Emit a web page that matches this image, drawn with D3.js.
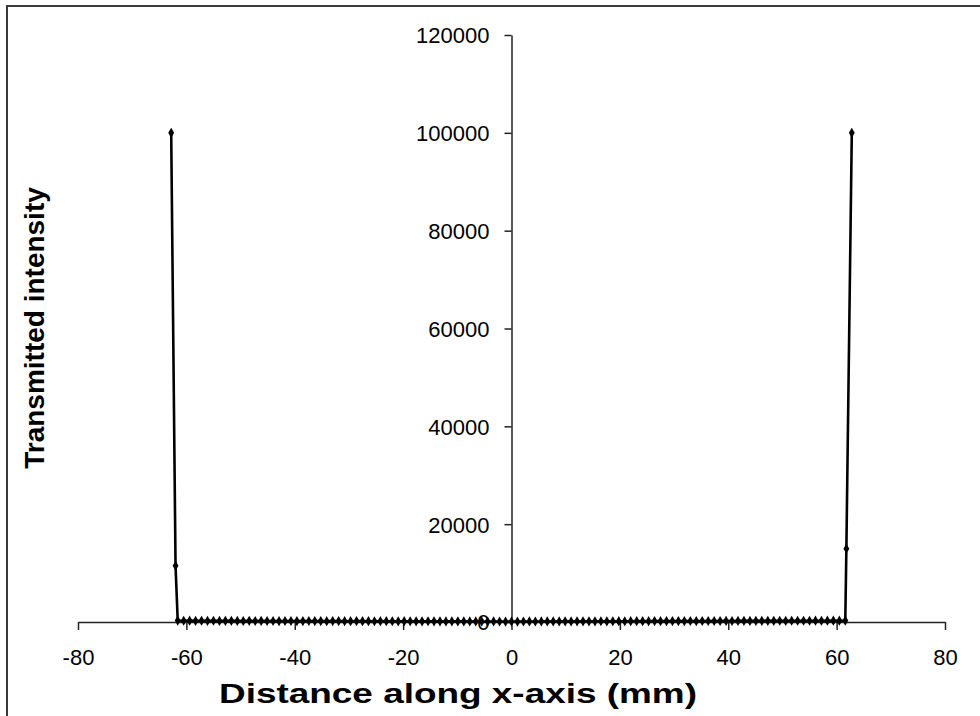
<!DOCTYPE html>
<html>
<head>
<meta charset="utf-8">
<script src="https://cdn.jsdelivr.net/npm/d3@7/dist/d3.min.js"></script>
<style>
  html, body { margin: 0; padding: 0; background: #fff; }
  svg { display: block; }
  text { font-family: "Liberation Sans", Arial, sans-serif; fill: #000; }
</style>
</head>
<body>
<svg id="chart" width="980" height="716"></svg>
<script>
// Distance along the x-axis (mm) for each sample
const distance = [
  -62.8, -62.0,
  -61.6, -60.5, -59.4, -58.3, -57.2, -56.1, -55.0, -53.9, -52.8, -51.7,
  -50.6, -49.5, -48.4, -47.3, -46.2, -45.1, -44.0, -42.9, -41.8, -40.7,
  -39.6, -38.5, -37.4, -36.3, -35.2, -34.1, -33.0, -31.9, -30.8, -29.7,
  -28.6, -27.5, -26.4, -25.3, -24.2, -23.1, -22.0, -20.9, -19.8, -18.7,
  -17.6, -16.5, -15.4, -14.3, -13.2, -12.1, -11.0, -9.9, -8.8, -7.7,
  -6.6, -5.5, -4.4, -3.3, -2.2, -1.1, 0.0, 1.1, 2.2, 3.3,
  4.4, 5.5, 6.6, 7.7, 8.8, 9.9, 11.0, 12.1, 13.2, 14.3,
  15.4, 16.5, 17.6, 18.7, 19.8, 20.9, 22.0, 23.1, 24.2, 25.3,
  26.4, 27.5, 28.6, 29.7, 30.8, 31.9, 33.0, 34.1, 35.2, 36.3,
  37.4, 38.5, 39.6, 40.7, 41.8, 42.9, 44.0, 45.1, 46.2, 47.3,
  48.4, 49.5, 50.6, 51.7, 52.8, 53.9, 55.0, 56.1, 57.2, 58.3,
  59.4, 60.5, 61.6,
  61.8, 62.8
];

// Transmitted intensity at each sample
const intensity = [
  100000, 11500,
  300, 250, 280, 240, 260, 230, 250, 220, 240, 230,
  220, 210, 230, 200, 220, 210, 200, 190, 210, 200,
  190, 180, 200, 190, 180, 170, 190, 180, 170, 160,
  180, 170, 160, 150, 170, 160, 150, 140, 160, 150,
  140, 130, 150, 140, 130, 120, 140, 130, 120, 110,
  120, 110, 100, 110, 100, 90, 100, 90, 100, 110,
  100, 110, 120, 110, 120, 130, 120, 130, 140, 130,
  140, 150, 140, 150, 160, 150, 160, 170, 160, 170,
  180, 170, 180, 190, 180, 190, 200, 190, 200, 210,
  200, 210, 220, 210, 220, 230, 220, 230, 240, 230,
  240, 250, 240, 250, 260, 250, 260, 270, 260, 270,
  280, 270, 300,
  15000, 100000
];

const xTicks = [-80, -60, -40, -20, 0, 20, 40, 60, 80];
const yTicks = [0, 20000, 40000, 60000, 80000, 100000, 120000];

const xTitle = "Distance along x-axis (mm)";
const yTitle = "Transmitted intensity";

const svg = d3.select("#chart");

const x = d3.scaleLinear().domain([-80, 80]).range([78, 945]);
const y = d3.scaleLinear().domain([0, 120000]).range([622, 35]);

// plain hyphen for negatives
const plain = d => String(d);

// page frame (left and top edges)
svg.append("path")
  .attr("d", "M7,716 L7,6 L980,6")
  .attr("fill", "none")
  .attr("stroke", "#3a3a3a")
  .attr("stroke-width", 2);

// x axis through y = 0
const xAxis = svg.append("g")
  .attr("transform", `translate(0,${y(0)})`)
  .call(d3.axisBottom(x).tickValues(xTicks).tickFormat(plain).tickSize(8).tickSizeOuter(0).tickPadding(19));

// y axis through x = 0
const yAxis = svg.append("g")
  .attr("transform", `translate(${x(0)},0)`)
  .call(d3.axisLeft(y).tickValues(yTicks).tickFormat(plain).tickSize(7).tickSizeOuter(0).tickPadding(15));

[xAxis, yAxis].forEach(g => {
  g.select(".domain").attr("stroke", "#222").attr("stroke-width", 1.5);
  g.selectAll(".tick line").attr("stroke", "#222").attr("stroke-width", 1.5);
  g.selectAll(".tick text")
    .attr("font-family", "'Liberation Sans', Arial, sans-serif")
    .attr("font-size", 22)
    .attr("fill", "#000");
});
yAxis.selectAll(".tick text").attr("dy", "0.36em");

// intensity trace
const pts = distance.map((d, i) => [d, intensity[i]]);
const line = d3.line().x(d => x(d[0])).y(d => y(d[1]));

svg.append("path")
  .datum(pts)
  .attr("d", line)
  .attr("fill", "none")
  .attr("stroke", "#000")
  .attr("stroke-width", 2.6)
  .attr("stroke-linejoin", "round");

// diamond markers at each sample
const diamond = d3.symbol().type(d3.symbolDiamond).size(30);
svg.append("g")
  .selectAll("path")
  .data(pts)
  .join("path")
  .attr("transform", d => `translate(${x(d[0])},${y(d[1])})`)
  .attr("d", diamond)
  .attr("fill", "#000");

// axis titles
svg.append("text")
  .attr("x", 458)
  .attr("y", 703)
  .attr("text-anchor", "middle")
  .attr("font-size", 28)
  .attr("font-weight", "bold")
  .attr("textLength", 478)
  .attr("lengthAdjust", "spacingAndGlyphs")
  .text(xTitle);

svg.append("text")
  .attr("transform", `translate(44,328) rotate(-90)`)
  .attr("text-anchor", "middle")
  .attr("font-size", 28)
  .attr("font-weight", "bold")
  .text(yTitle);
</script>
</body>
</html>
